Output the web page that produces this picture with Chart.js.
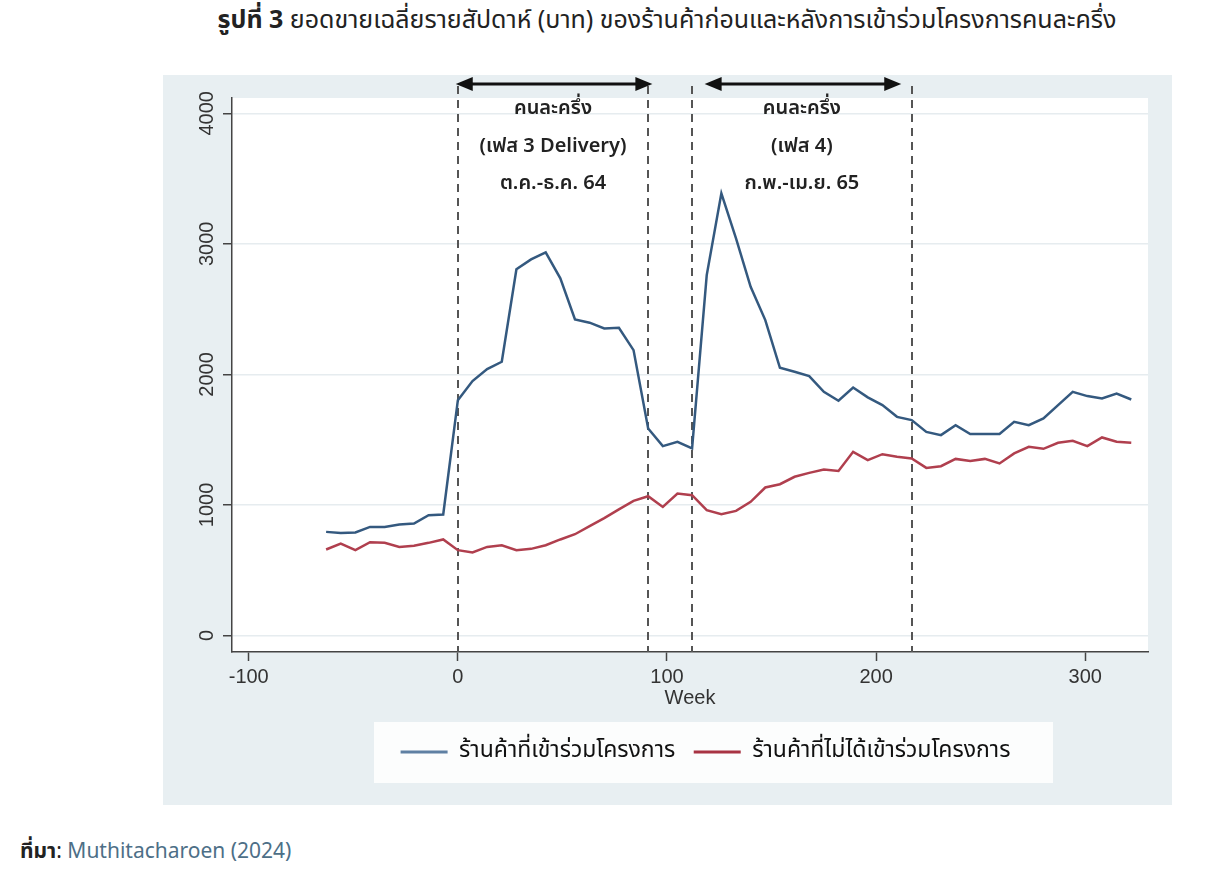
<!DOCTYPE html>
<html lang="th">
<head>
<meta charset="utf-8">
<title>ยอดขายเฉลี่ยรายสัปดาห์</title>
<script src="https://cdn.jsdelivr.net/npm/chart.js@4.4.1/dist/chart.umd.min.js"></script>
<style>
  html, body { margin: 0; padding: 0; background: #fff; }
  body { width: 1218px; height: 886px; position: relative; overflow: hidden;
         font-family: "Noto Sans Thai", "Noto Sans", "DejaVu Sans", sans-serif; color: #222; }
  .title { position: absolute; left: 667px; top: 1px; transform: translateX(-50%);
           white-space: nowrap; font-size: 25px; }
  .panel { position: absolute; left: 163px; top: 75px; width: 1009px; height: 730px; background: #e8eff2; }
  .source { position: absolute; left: 20px; top: 836px; font-size: 21px; white-space: nowrap; }
  .source a { color: #4d6f87; text-decoration: none; }
</style>
</head>
<body>
<div class="title"><b>รูปที่ 3</b> ยอดขายเฉลี่ยรายสัปดาห์ (บาท) ของร้านค้าก่อนและหลังการเข้าร่วมโครงการคนละครึ่ง</div>
<div class="panel"><canvas id="salesChart" width="1009" height="730"></canvas></div>
<div class="source"><b>ที่มา</b>: <a>Muthitacharoen (2024)</a></div>
<script>
// week relative to the start of the phase 3 programme
var weeks = [-63, -56, -49, -42, -35, -28, -21, -14, -7,
    0, 7, 14, 21, 28, 35, 42, 49, 56, 63, 70, 77, 84, 91, 98, 105, 112,
    119, 126, 133, 140, 147, 154, 161, 168, 175, 182, 189, 196, 203, 210, 217,
    224, 231, 238, 245, 252, 259, 266, 273, 280, 287, 294, 301, 308, 315, 322];

var joined = [794, 786, 790, 832, 832, 850, 858, 922, 927,
    1803, 1949, 2041, 2097, 2805, 2881, 2935, 2736, 2421, 2396, 2352, 2357, 2186, 1586, 1451, 1484, 1433,
    2761, 3387, 3042, 2671, 2416, 2051, 2020, 1987, 1867, 1798, 1900, 1824, 1765, 1675, 1650,
    1560, 1535, 1611, 1543, 1543, 1543, 1637, 1611, 1663, 1765, 1867, 1834, 1816, 1854, 1808];

var notJoined = [659, 705, 654, 715, 710, 679, 687, 710, 736,
    654, 636, 679, 692, 654, 664, 692, 736, 776, 838, 899, 966, 1032, 1067, 985, 1088, 1075,
    960, 929, 955, 1024, 1134, 1159, 1216, 1246, 1272, 1261, 1407, 1343, 1389, 1369, 1356,
    1284, 1297, 1353, 1336, 1353, 1318, 1395, 1445, 1430, 1476, 1491, 1451, 1517, 1484, 1476];

var seriesNames = ['ร้านค้าที่เข้าร่วมโครงการ', 'ร้านค้าที่ไม่ได้เข้าร่วมโครงการ'];
var xTicks = [-100, 0, 100, 200, 300];
var yTicks = [0, 1000, 2000, 3000, 4000];

// programme windows (dashed lines) and the arrows above them
var phaseLines = [0, 91, 112, 217];
var arrowFrom = [-1, 118];
var arrowTo = [93, 212];
var phaseText = [
    ['คนละครึ่ง', '(เฟส 3 Delivery)', 'ต.ค.-ธ.ค. 64'],
    ['คนละครึ่ง', '(เฟส 4)', 'ก.พ.-เม.ย. 65']
];

var thaiFont = '"Noto Sans Thai", "Noto Sans", "DejaVu Sans", sans-serif';

function toPoints(values) {
    return weeks.map(function (w, i) { return { x: w, y: values[i] }; });
}

var legendBox = { left: 211, right: 890, height: 61 };

var overlay = {
    id: 'overlay',
    afterLayout: function (chart) {
        // centre the legend row inside its white box
        var lg = chart.legend;
        var shift = (legendBox.left + legendBox.right) / 2 - (lg.left + lg.right) / 2 - 8;
        lg.left += shift;
        lg.right += shift;
    },
    beforeDraw: function (chart) {
        var ctx = chart.ctx, a = chart.chartArea, lg = chart.legend;
        ctx.save();
        ctx.fillStyle = '#ffffff';
        ctx.fillRect(a.left, a.top, a.right - a.left, a.bottom - a.top);
        ctx.fillStyle = '#fcfdfd';
        ctx.fillRect(legendBox.left, lg.top, legendBox.right - legendBox.left, legendBox.height);
        ctx.restore();
    },
    beforeDatasetsDraw: function (chart) {
        var ctx = chart.ctx, a = chart.chartArea, xs = chart.scales.x;
        ctx.save();
        ctx.strokeStyle = '#555';
        ctx.lineWidth = 2;
        ctx.setLineDash([8, 6]);
        phaseLines.forEach(function (w) {
            var px = Math.round(xs.getPixelForValue(w));
            ctx.beginPath();
            ctx.moveTo(px, a.top - 12);
            ctx.lineTo(px, a.bottom);
            ctx.stroke();
        });
        ctx.restore();
    },
    afterDatasetsDraw: function (chart) {
        var ctx = chart.ctx, a = chart.chartArea, xs = chart.scales.x;
        var ay = a.top - 14;
        ctx.save();
        ctx.strokeStyle = '#111';
        ctx.fillStyle = '#111';
        ctx.lineWidth = 3;
        arrowFrom.forEach(function (w, i) {
            var x0 = xs.getPixelForValue(w), x1 = xs.getPixelForValue(arrowTo[i]);
            ctx.beginPath();
            ctx.moveTo(x0 + 10, ay);
            ctx.lineTo(x1 - 10, ay);
            ctx.stroke();
            ctx.beginPath();
            ctx.moveTo(x0, ay);
            ctx.lineTo(x0 + 17, ay - 7);
            ctx.lineTo(x0 + 17, ay + 7);
            ctx.closePath();
            ctx.fill();
            ctx.beginPath();
            ctx.moveTo(x1, ay);
            ctx.lineTo(x1 - 17, ay - 7);
            ctx.lineTo(x1 - 17, ay + 7);
            ctx.closePath();
            ctx.fill();
        });
        ctx.font = '600 20px ' + thaiFont;
        ctx.fillStyle = '#222';
        ctx.textAlign = 'center';
        ctx.textBaseline = 'middle';
        phaseText.forEach(function (lines, i) {
            var cx = (xs.getPixelForValue(phaseLines[2 * i]) + xs.getPixelForValue(phaseLines[2 * i + 1])) / 2;
            lines.forEach(function (t, j) {
                ctx.fillText(t, cx, a.top + 12 + j * 37.5);
            });
        });
        ctx.restore();
    }
};

Chart.defaults.font.family = '"Liberation Sans", Arial, sans-serif';
Chart.defaults.color = '#333';

new Chart(document.getElementById('salesChart'), {
    type: 'line',
    data: {
        datasets: [{
            label: seriesNames[0],
            data: toPoints(joined),
            borderColor: '#34597f',
            backgroundColor: '#5f80a3',
            borderWidth: 2.5,
            pointRadius: 0,
            tension: 0
        }, {
            label: seriesNames[1],
            data: toPoints(notJoined),
            borderColor: '#b03f4e',
            backgroundColor: '#a83343',
            borderWidth: 2.5,
            pointRadius: 0,
            tension: 0
        }]
    },
    options: {
        responsive: false,
        animation: false,
        layout: { padding: { left: 0, right: 24, top: 23, bottom: 31.5 } },
        scales: {
            x: {
                type: 'linear',
                min: -108,
                max: 330,
                afterBuildTicks: function (s) { s.ticks = xTicks.map(function (v) { return { value: v }; }); },
                afterFit: function (s) { s.height = 70; },
                grid: { drawOnChartArea: false, drawTicks: true, tickLength: 9, tickColor: '#444', tickWidth: 1.5 },
                border: { color: '#444', width: 1.5 },
                ticks: { font: { size: 20 }, color: '#333', padding: 4, maxRotation: 0 },
                title: { display: true, text: 'Week', font: { size: 20 }, color: '#333', padding: { top: 0, bottom: 12 } }
            },
            y: {
                min: -126,
                max: 4117,
                afterBuildTicks: function (s) { s.ticks = yTicks.map(function (v) { return { value: v }; }); },
                afterFit: function (s) { s.width = 69; },
                grid: { color: '#e6ecef', lineWidth: 1.5, tickLength: 9, tickColor: '#444', tickWidth: 1.5 },
                border: { color: '#444', width: 1.5 },
                ticks: {
                    font: { size: 20 }, color: '#333', padding: -7,
                    minRotation: 90, maxRotation: 90, crossAlign: 'center',
                    callback: function (v) { return String(v); }
                }
            }
        },
        plugins: {
            legend: {
                position: 'bottom',
                labels: {
                    boxWidth: 47,
                    boxHeight: 3,
                    padding: 18.5,
                    color: '#111',
                    font: { family: thaiFont, size: 23 },
                    generateLabels: function (chart) {
                        var items = Chart.defaults.plugins.legend.labels.generateLabels(chart);
                        items.forEach(function (it) { it.lineWidth = 0; });
                        return items;
                    }
                }
            },
            tooltip: { enabled: false }
        }
    },
    plugins: [overlay]
});
</script>
</body>
</html>
